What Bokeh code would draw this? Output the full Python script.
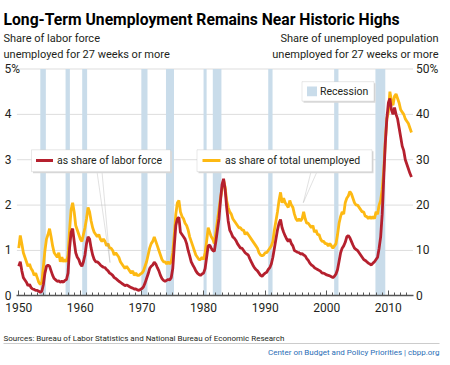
from bokeh.plotting import figure
from bokeh.models import (Range1d, LinearAxis, FixedTicker, Label, BoxAnnotation,
                          PolyAnnotation, ColumnDataSource)
from bokeh.embed import file_html
from bokeh.resources import INLINE

# ---------------- data (quarterly readings) ----------------
first_year = 1950
# share of unemployed population unemployed 27+ weeks (%), right axis
share_unemployed = [
    10.5, 13.3, 11.5, 9.5,   8.5, 7.5, 6.5, 7.0,   6.0, 5.5, 4.5, 5.0,   4.0, 3.0, 2.5, 3.0,
    6.5, 10.0, 12.5, 13.5,   14.8, 13.0, 11.0, 9.5,   9.0, 8.5, 9.5, 7.5,   8.5, 7.5, 8.0, 7.5,
    9.0, 14.5, 19.0, 20.5,   18.5, 15.5, 14.5, 13.5,   12.5, 12.0, 13.5, 15.0,   17.0, 19.5, 18.5, 16.5,
    15.0, 14.0, 13.5, 13.0,   13.5, 12.5, 12.0, 12.5,   12.0, 11.0, 11.5, 10.5,   10.5, 10.0, 9.0, 9.5,
    9.0, 8.5, 7.5, 7.0,   6.5, 6.0, 6.5, 6.0,   5.5, 5.0, 5.5, 4.5,   5.0, 4.5, 4.5, 4.8,
    5.0, 5.5, 6.5, 7.5,   9.0, 10.5, 11.5, 12.0,   13.0, 12.0, 11.0, 10.0,   9.0, 8.0, 7.5, 7.5,
    7.0, 7.5, 7.0, 7.5,   9.5, 13.5, 18.0, 20.5,   21.0, 18.5, 17.5, 17.0,   16.0, 15.5, 14.5, 13.0,
    12.0, 11.0, 10.0, 9.0,   8.5, 8.0, 8.0, 8.5,   8.0, 9.5, 12.0, 15.0,   14.0, 13.0, 12.5, 11.5,
    14.0, 16.5, 19.0, 21.5,   23.5, 25.5, 24.0, 21.0,   19.5, 18.5, 18.0, 17.0,   16.5, 16.0, 15.5, 15.0,
    15.0, 14.5, 14.5, 13.5,   14.0, 13.5, 13.0, 12.5,   12.0, 11.5, 11.0, 10.5,   9.5, 9.0, 8.8, 9.0,
    9.5, 9.5, 10.0, 10.5,   11.0, 12.0, 14.5, 16.5,   18.5, 21.0, 22.8, 20.5,   21.5, 20.5, 20.0, 19.5,
    21.0, 20.0, 19.5, 18.0,   17.0, 16.5, 17.0, 16.5,   17.0, 18.5, 17.0, 16.0,   16.0, 15.5, 15.0, 15.5,
    14.0, 14.5, 13.5, 13.5,   12.5, 12.0, 12.0, 11.5,   11.5, 11.0, 11.5, 11.0,   10.5, 11.0, 11.5, 13.5,
    16.0, 17.5, 18.5, 18.0,   20.5, 21.5, 22.0, 23.0,   22.5, 21.5, 20.5, 20.0,   20.0, 19.5, 19.0, 18.5,
    18.5, 17.5, 17.5, 17.0,   17.5, 17.0, 17.5, 17.0,   18.5, 18.0, 20.0, 21.0,   23.5, 27.5, 34.0, 39.0,
    40.5, 45.0, 43.0, 42.0,   44.0, 44.5, 43.5, 42.5,   41.0, 40.5, 40.0, 39.0,   38.5, 38.0, 37.0, 36.0,
]
# share of labor force unemployed 27+ weeks (%), left axis
share_labor_force = [
    0.65, 0.75, 0.55, 0.40,   0.35, 0.30, 0.22, 0.25,   0.18, 0.15, 0.14, 0.12,   0.12, 0.10, 0.08, 0.10,
    0.25, 0.50, 0.65, 0.68,   0.65, 0.55, 0.45, 0.38,   0.35, 0.32, 0.33, 0.30,   0.32, 0.30, 0.34, 0.36,
    0.50, 1.05, 1.40, 1.48,   1.20, 0.95, 0.85, 0.80,   0.70, 0.65, 0.75, 0.90,   1.15, 1.30, 1.25, 1.05,
    0.90, 0.80, 0.75, 0.75,   0.72, 0.68, 0.65, 0.63,   0.62, 0.58, 0.55, 0.50,   0.48, 0.45, 0.40, 0.38,
    0.35, 0.32, 0.30, 0.27,   0.25, 0.22, 0.24, 0.22,   0.20, 0.18, 0.17, 0.15,   0.15, 0.13, 0.12, 0.14,
    0.16, 0.20, 0.28, 0.38,   0.48, 0.60, 0.65, 0.68,   0.74, 0.70, 0.62, 0.55,   0.45, 0.38, 0.34, 0.32,
    0.34, 0.36, 0.35, 0.40,   0.60, 1.10, 1.55, 1.70,   1.73, 1.40, 1.35, 1.30,   1.25, 1.15, 1.00, 0.88,
    0.75, 0.68, 0.62, 0.55,   0.50, 0.47, 0.45, 0.48,   0.50, 0.60, 0.85, 1.10,   1.12, 1.05, 1.00, 0.98,
    1.20, 1.45, 1.70, 2.10,   2.45, 2.58, 2.35, 1.95,   1.65, 1.45, 1.38, 1.30,   1.27, 1.22, 1.15, 1.10,
    1.05, 1.05, 1.00, 0.95,   0.92, 0.90, 0.82, 0.75,   0.68, 0.62, 0.58, 0.55,   0.50, 0.45, 0.43, 0.47,
    0.50, 0.52, 0.58, 0.62,   0.70, 0.85, 1.05, 1.25,   1.45, 1.60, 1.68, 1.50,   1.40, 1.32, 1.25, 1.20,
    1.25, 1.15, 1.10, 1.00,   0.98, 0.96, 0.95, 0.92,   0.93, 0.90, 0.88, 0.82,   0.78, 0.72, 0.68, 0.66,
    0.62, 0.60, 0.58, 0.56,   0.54, 0.50, 0.50, 0.48,   0.46, 0.45, 0.44, 0.42,   0.40, 0.43, 0.48, 0.58,
    0.76, 0.95, 1.05, 1.10,   1.18, 1.30, 1.33, 1.28,   1.20, 1.12, 1.05, 1.02,   1.00, 0.95, 0.90, 0.85,
    0.80, 0.78, 0.75, 0.72,   0.70, 0.68, 0.72, 0.75,   0.80, 0.85, 1.05, 1.30,   1.80, 2.60, 3.35, 3.90,
    4.25, 4.35, 4.10, 4.00,   4.15, 4.00, 3.90, 3.70,   3.50, 3.30, 3.20, 3.00,   2.90, 2.80, 2.70, 2.62,
]
recession_start = [1953.5, 1957.6, 1960.3, 1969.9, 1973.9, 1980.0, 1981.5, 1990.5, 2001.2, 2007.9]
recession_end = [1954.4, 1958.3, 1961.1, 1970.9, 1975.2, 1980.5, 1982.9, 1991.2, 2001.9, 2009.5]

left_ticks = [0, 1, 2, 3, 4, 5]
left_tick_labels = ["0", "1", "2", "3", "4", "5%"]
right_ticks = [0, 10, 20, 30, 40, 50]
right_tick_labels = ["0", "10", "20", "30", "40", "50%"]
year_ticks = [1950, 1960, 1970, 1980, 1990, 2000, 2010]

years = [first_year + i / 4 for i in range(len(share_labor_force))]

# ---------------- style / geometry ----------------
FONT = "Roboto"
TXT = "#231f20"
RED = "#b5202e"
ORANGE = "#fdb913"
REC = "#c9dcea"

W, H = 442, 357
# plotting area within the canvas (pixels from top-left)
AX_L, AX_R, AX_T, AX_B = 16.4, 412.5, 68.5, 295.3
X0, X1 = 1949.7, 2014.0      # data extent of the chart area
Y0, Y1 = 0.0, 5.0
ppx = (AX_R - AX_L) / (X1 - X0)
ppy = (AX_B - AX_T) / (Y1 - Y0)
x_range = Range1d(X0 - AX_L / ppx, X1 + (W - AX_R) / ppx)
y_lo = Y0 - (H - AX_B) / ppy
y_hi = Y1 + AX_T / ppy
y_range = Range1d(y_lo, y_hi)

p = figure(width=W, height=H, output_backend="svg", toolbar_location=None,
           x_range=x_range, y_range=y_range,
           min_border=0, min_border_left=0, min_border_right=0,
           min_border_top=0, min_border_bottom=0)
p.title.visible = False
p.outline_line_color = None
p.background_fill_color = "white"
p.border_fill_color = "white"
p.extra_y_ranges = {"unemp": Range1d(y_lo * 10, y_hi * 10)}
p.xgrid.visible = False
p.ygrid.visible = False

# x axis (drawn at y = 0)
xa = p.xaxis[0]
xa.fixed_location = 0
xa.bounds = (X0, X1)
xa.ticker = FixedTicker(ticks=year_ticks, minor_ticks=list(range(1950, 2014)))
xa.axis_line_color = "#555555"
xa.axis_line_width = 1.3
xa.major_tick_in = 5
xa.major_tick_out = 0
xa.minor_tick_in = 3
xa.minor_tick_out = 0
xa.major_tick_line_color = "#555555"
xa.minor_tick_line_color = "#555555"
xa.major_label_standoff = 7
xa.major_label_text_font = FONT
xa.major_label_text_font_size = "12px"
xa.major_label_text_color = TXT

# left axis (share of labor force); labels padded so the digits line up at the left like "5%"
ya = p.yaxis[0]
ya.fixed_location = X0 + 3.2 / ppx
ya.bounds = (Y0, Y1)
ya.ticker = FixedTicker(ticks=left_ticks)
ya.major_label_overrides = {t: (s if s.endswith("%") else s + "\u2002\u2009")
                            for t, s in zip(left_ticks, left_tick_labels)}
ya.axis_line_color = None
ya.major_tick_line_color = None
ya.minor_tick_line_color = None
ya.major_tick_in = 0
ya.major_tick_out = 0
ya.minor_tick_in = 0
ya.minor_tick_out = 0
ya.major_label_standoff = 0
ya.major_label_text_font = FONT
ya.major_label_text_font_size = "12px"
ya.major_label_text_color = TXT

# right axis (share of unemployed)
ra = LinearAxis(y_range_name="unemp", ticker=FixedTicker(ticks=right_ticks),
                fixed_location=X1, bounds=(0, 50))
ra.major_label_overrides = dict(zip(right_ticks, right_tick_labels))
ra.axis_line_color = None
ra.major_tick_line_color = None
ra.minor_tick_line_color = None
ra.major_tick_in = 0
ra.major_tick_out = 0
ra.minor_tick_in = 0
ra.minor_tick_out = 0
ra.major_label_standoff = 3
ra.major_label_text_font = FONT
ra.major_label_text_font_size = "12px"
ra.major_label_text_color = TXT
p.add_layout(ra, "right")

# horizontal grid lines
p.segment(x0=X0, x1=X1, y0=left_ticks[1:], y1=left_ticks[1:], line_color="#dddddd", line_width=1)

# recession bands
rec = ColumnDataSource(dict(left=recession_start, right=recession_end))
p.quad(left="left", right="right", bottom=Y0, top=Y1, source=rec,
       fill_color=REC, line_color=None)

# series
src = ColumnDataSource(dict(year=years, lf=share_labor_force, un=share_unemployed))
p.line("year", "un", source=src, y_range_name="unemp", line_color=ORANGE, line_width=2.8)
p.line("year", "lf", source=src, line_color=RED, line_width=2.8)

# ---------------- annotations (canvas pixels, y from top) ----------------
def lab(x, y_top, text, size="11px", color=TXT, align="left", baseline="alphabetic", style="normal"):
    p.add_layout(Label(x=x, y=H - y_top, x_units="screen", y_units="screen", text=text,
                       text_font=FONT, text_font_size=size, text_color=color,
                       text_align=align, text_baseline=baseline, text_font_style=style))

def box(l, r, t, b, fill="white", line="#b3b3b3"):
    p.add_layout(BoxAnnotation(left=l, right=r, bottom=H - b, top=H - t,
                               left_units="screen", right_units="screen",
                               bottom_units="screen", top_units="screen",
                               fill_color=fill, fill_alpha=1.0,
                               line_color=line, line_width=1 if line else 0,
                               level="annotation"))

def wedge(xs, ys_top):
    p.add_layout(PolyAnnotation(xs=xs, ys=[H - y for y in ys_top],
                                xs_units="screen", ys_units="screen",
                                fill_alpha=0.0, line_color="#9a9a9a", line_width=1))

# title and subtitles
lab(3, 19, "Long-Term Unemployment Remains Near Historic Highs", size="15.7px", style="bold",
    color="#000000")
lab(3, 38, "Share of labor force")
lab(3, 54, "unemployed for 27 weeks or more")
lab(438, 38, "Share of unemployed population", align="right")
lab(438, 54, "unemployed for 27 weeks or more", align="right")

# source, rule and footer
lab(3, 337.5, "Sources: Bureau of Labor Statistics and National Bureau of Economic Research", size="8px")
box(3, 439, 342.5, 343.5, fill="#cccccc", line=None)
lab(439, 352, "Center on Budget and Policy Priorities | cbpp.org", size="8px",
    color="#2a6db5", align="right")

# recession legend
box(303, 375, 82.7, 102.2, fill="#d9d9d9", line=None)
box(301.5, 373.5, 81.2, 100.7)
box(306.5, 316.5, 86, 95.8, fill=REC, line=None)
lab(319.5, 91, "Recession", size="10.5px", baseline="middle")

# callout wedges
wedge([96.5, 101.5, 109.5], [171.2, 171.2, 262.1])
wedge([310.5, 316.5, 302.8], [171.2, 171.2, 202.2])

# series legend boxes
box(32.5, 171.5, 150.8, 172.7, fill="#d9d9d9", line=None)
box(31, 170, 149.3, 171.2)
box(35.5, 52.5, 158.5, 161.5, fill=RED, line=None)
lab(56.5, 160, "as share of labor force", size="10.5px", baseline="middle")

box(198, 373, 150.8, 172.7, fill="#d9d9d9", line=None)
box(196.5, 371.5, 149.3, 171.2)
box(202, 220, 158.5, 161.5, fill=ORANGE, line=None)
lab(224.5, 160, "as share of total unemployed", size="10.5px", baseline="middle")

open("out.html", "w").write(file_html(p, INLINE))
